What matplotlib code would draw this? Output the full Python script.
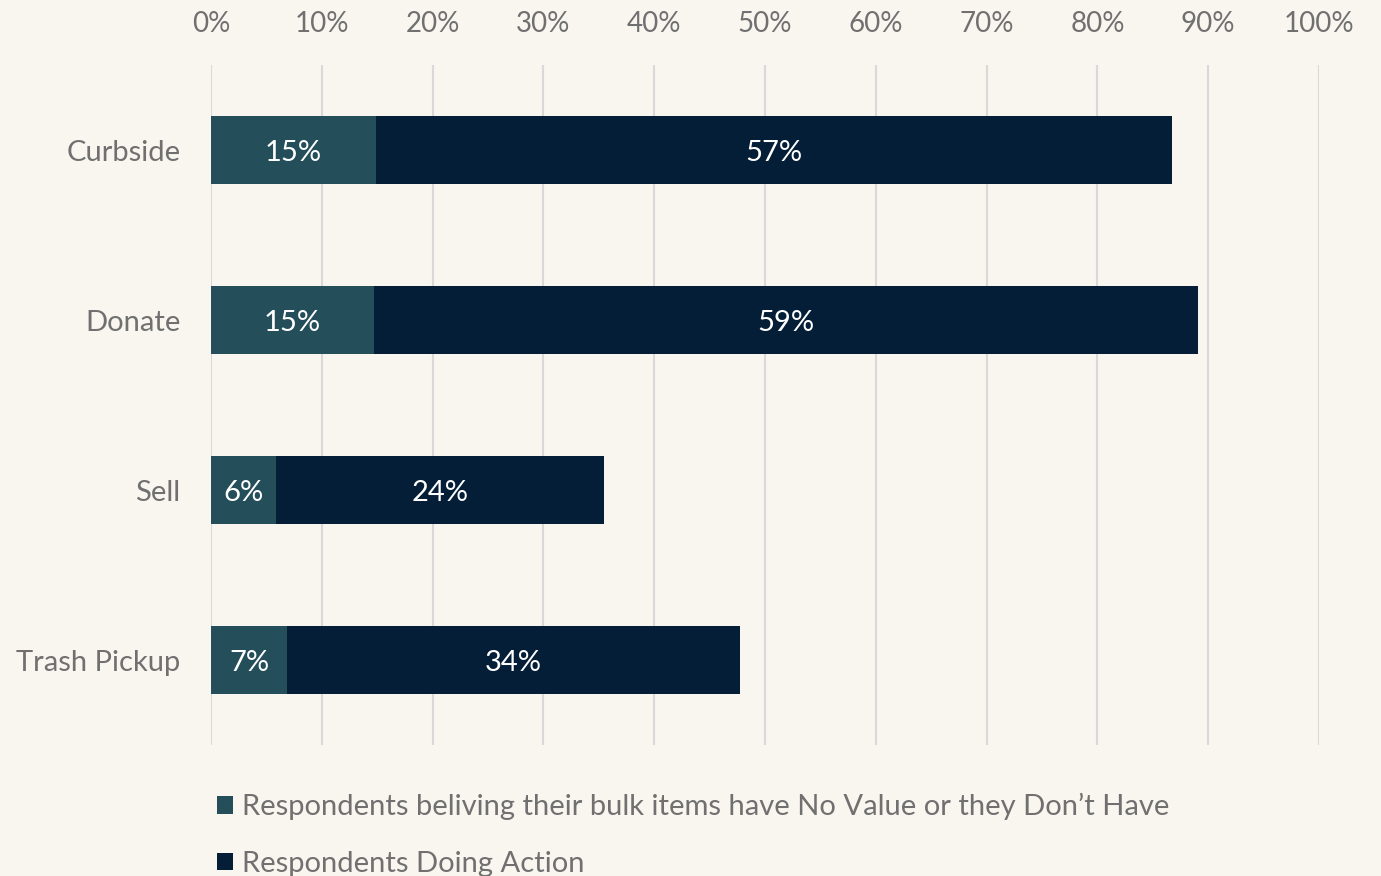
import matplotlib.pyplot as plt
import numpy as np

plt.rcParams['font.family'] = ['Lato', 'DejaVu Sans']

# Data
categories = ['Curbside', 'Donate', 'Sell', 'Trash Pickup']
no_value = [14.9, 14.7, 5.9, 6.9]        # segment lengths (% of axis)
doing_action = [71.8, 74.4, 29.6, 40.8]
no_value_labels = ['15%', '15%', '6%', '7%']
doing_action_labels = ['57%', '59%', '24%', '34%']
series_names = ["Respondents beliving their bulk items have No Value or they Don\u2019t Have",
                "Respondents Doing Action"]

bg = '#F9F6F0'
teal = '#234E5A'
navy = '#051E38'
gray = '#707070'

fig = plt.figure(figsize=(13.81, 8.76), dpi=100, facecolor=bg)
ax = fig.add_axes([0.1528, 0.1495, 0.8023, 0.7763], facecolor=bg)

y = np.arange(len(categories))
b1 = ax.barh(y, no_value, height=0.4, color=teal, label=series_names[0], zorder=3)
b2 = ax.barh(y, doing_action, left=no_value, height=0.4, color=navy, label=series_names[1], zorder=3)

for bars, labels in [(b1, no_value_labels), (b2, doing_action_labels)]:
    for rect, lab in zip(bars, labels):
        ax.text(rect.get_x() + rect.get_width() / 2, rect.get_y() + rect.get_height() / 2, lab,
                ha='center', va='center_baseline', color='white', fontsize=21, zorder=4)

ax.set_xlim(0, 100)
ax.set_ylim(3.5, -0.5)
ax.set_xticks(np.arange(0, 101, 10))
ax.set_xticklabels([f'{t}%' for t in range(0, 101, 10)])
ax.xaxis.tick_top()
ax.tick_params(axis='x', length=0, pad=20, labelsize=20, labelcolor=gray)
ax.set_yticks(y)
ax.set_yticklabels(categories)
ax.tick_params(axis='y', length=0, pad=22, labelsize=21, labelcolor=gray)
ax.grid(axis='x', color='#D9D9D9', linewidth=1.5, zorder=0)
for s in ax.spines.values():
    s.set_visible(False)

leg = fig.legend(handles=[b1, b2], loc='upper left', bbox_to_anchor=(0.149, 0.108),
                 frameon=False, fontsize=21, labelcolor=gray, handlelength=0.55,
                 handleheight=0.55, handletextpad=0.3, labelspacing=1.05, borderaxespad=0)

fig.savefig('out.png', dpi=100, facecolor=bg)
